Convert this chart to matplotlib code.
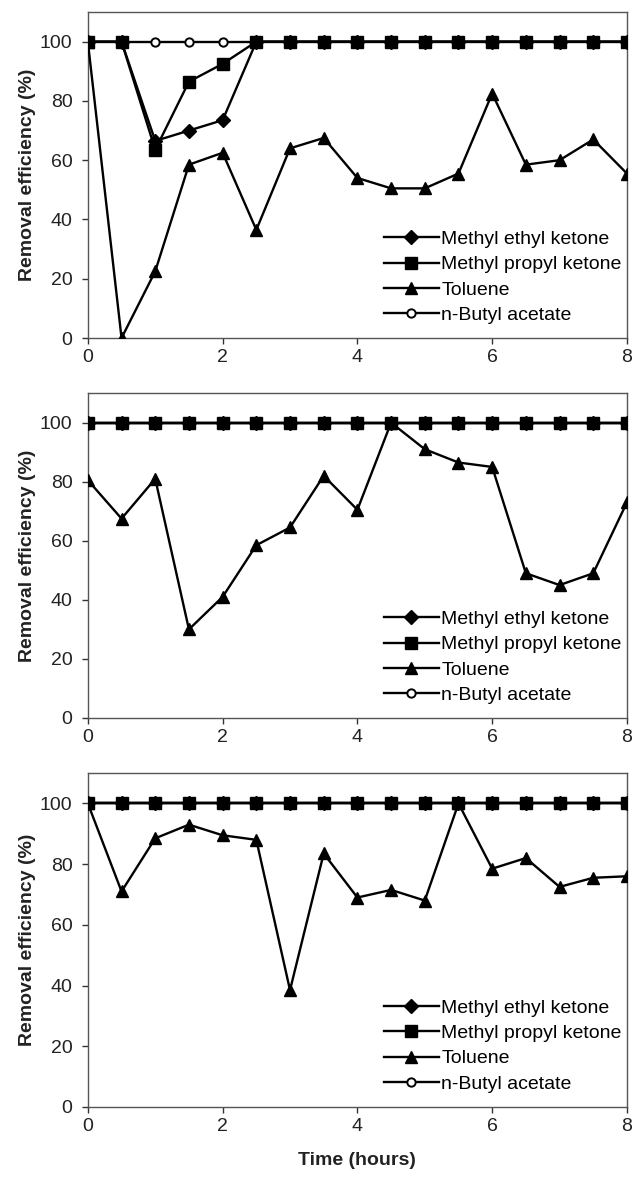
import matplotlib
matplotlib.use('Agg')
import matplotlib.pyplot as plt

plt.rcParams['font.family'] = ['Liberation Sans', 'DejaVu Sans']

time_h = [0, 0.5, 1, 1.5, 2, 2.5, 3, 3.5, 4, 4.5, 5, 5.5, 6, 6.5, 7, 7.5, 8]
labels = ['Methyl ethyl ketone', 'Methyl propyl ketone', 'Toluene', 'n-Butyl acetate']

# panel 1
mek_1 = [100, 100, 66.5, 70, 73.5, 100, 100, 100, 100, 100, 100, 100, 100, 100, 100, 100, 100]
mpk_1 = [100, 100, 63.5, 86.5, 92.5, 100, 100, 100, 100, 100, 100, 100, 100, 100, 100, 100, 100]
tol_1 = [100, 0, 22.5, 58.5, 62.5, 36.5, 64, 67.5, 54, 50.5, 50.5, 55.5, 82.5, 58.5, 60, 67, 55.5]
nba_1 = [100] * 17

# panel 2
mek_2 = [100] * 17
mpk_2 = [100] * 17
tol_2 = [80.5, 67.5, 81, 30, 41, 58.5, 64.5, 82, 70.5, 100, 91, 86.5, 85, 49, 45, 49, 73]
nba_2 = [100] * 17

# panel 3
mek_3 = [100] * 17
mpk_3 = [100] * 17
tol_3 = [100, 71, 88.5, 93, 89.5, 88, 38.5, 83.5, 69, 71.5, 68, 100, 78.5, 82, 72.5, 75.5, 76]
nba_3 = [100] * 17

panels = [
    (mek_1, mpk_1, tol_1, nba_1),
    (mek_2, mpk_2, tol_2, nba_2),
    (mek_3, mpk_3, tol_3, nba_3),
]

fig = plt.figure(figsize=(6.32, 11.77), dpi=100)
boxes = [
    [0.139, 0.7128, 0.853, 0.277],
    [0.139, 0.390, 0.853, 0.276],
    [0.139, 0.0595, 0.853, 0.2837],
]

for box, (mek, mpk, tol, nba) in zip(boxes, panels):
    ax = fig.add_axes(box)
    ax.plot(time_h, mek, color='black', lw=1.7, marker='D', ms=7, zorder=4, label=labels[0])
    ax.plot(time_h, mpk, color='black', lw=1.7, marker='s', ms=8, zorder=5, label=labels[1])
    ax.plot(time_h, tol, color='black', lw=1.7, marker='^', ms=9, zorder=3, label=labels[2])
    ax.plot(time_h, nba, color='black', lw=1.7, marker='o', ms=6, mfc='white', mew=1.4,
            zorder=2, label=labels[3])
    ax.set_xlim(0, 8)
    ax.set_ylim(0, 110)
    ax.set_xticks([0, 2, 4, 6, 8])
    ax.set_yticks([0, 20, 40, 60, 80, 100])
    ax.tick_params(labelsize=14, direction='out', length=4, width=1, pad=4,
                   colors='#333333', labelcolor='#222222')
    ax.tick_params(axis='y', pad=7)
    for s in ax.spines.values():
        s.set_color('#555555')
        s.set_linewidth(1)
    ax.set_ylabel('Removal efficiency (%)', fontsize=14, fontweight='bold', labelpad=3,
                  color='#222222')
    ax.legend(loc='lower right', frameon=False, fontsize=14, handlelength=2.8,
              labelspacing=0.39, handletextpad=0.15, borderaxespad=0.2, borderpad=0.2,
              bbox_to_anchor=(1.005, 0.02))

ax.set_xlabel('Time (hours)', fontsize=14, fontweight='bold', labelpad=12, color='#222222')

fig.savefig('out.png', dpi=100)
